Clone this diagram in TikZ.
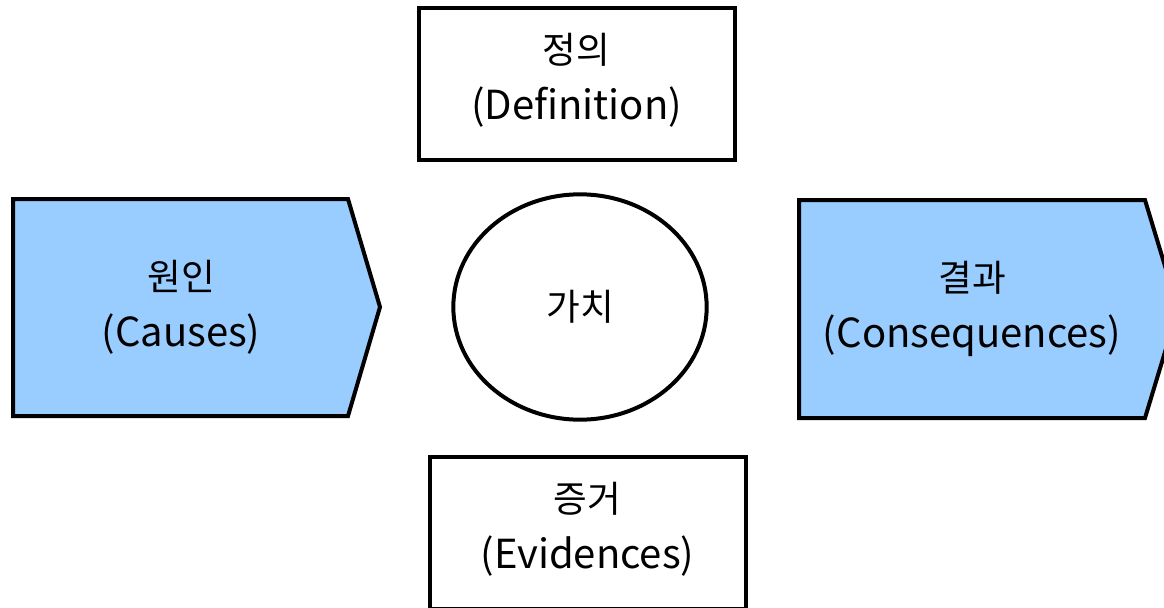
\documentclass[tikz,border=0pt]{standalone}
\usepackage{fontspec}
\setmainfont{Noto Sans CJK KR}
\usetikzlibrary{shapes.geometric}
\definecolor{causeblue}{HTML}{99CCFF}
\newcommand{\entext}[1]{{\fontsize{30}{42}\selectfont #1}}
\tikzset{
  label text/.style={align=center, font=\fontsize{27.5}{42}\selectfont},
  plain box/.style={draw, line width=3pt, fill=white, minimum width=237pt, minimum height=114pt, label text},
}
\begin{document}
\begin{tikzpicture}[x=0.75pt, y=-0.75pt]
                \useasboundingbox (0,0) rectangle (1164,607);
                \clip (0,0) rectangle (1164,607);
                % corners of the two pentagons
                \path (13, 199) coordinate (cA);
                \path (348, 199) coordinate (cB);
                \path (380, 307) coordinate (cP);
                \path (348, 416) coordinate (cC);
                \path (13, 416) coordinate (cD);
                \path (799, 200) coordinate (qA);
                \path (1145, 200) coordinate (qB);
                \path (1178, 309) coordinate (qP);
                \path (1145, 418) coordinate (qC);
                \path (799, 418) coordinate (qD);
                \draw[line width=3pt, line join=miter, fill=causeblue] (cA) -- (cB) -- (cP) -- (cC) -- (cD) -- cycle;
                \draw[line width=3pt, line join=miter, fill=causeblue] (qA) -- (qB) -- (qP) -- (qC) -- (qD) -- cycle;
                \node[label text] (cause) at (181, 307) {원인\\\entext{(Causes)}};
                \node[label text] (result) at (972, 309) {결과\\\entext{(Consequences)}};
                \node[plain box, text depth=0.4cm] (define) at (576.5, 84) {정의\\\entext{(Definition)}};
                \node[plain box, text depth=0.4cm] (proof) at (587.5, 533) {증거\\\entext{(Evidences)}};
                \node[draw, ellipse, line width=3pt, minimum width=190pt, minimum height=169pt, label text] (value) at (580, 307) {가치};
\end{tikzpicture}
\end{document}
